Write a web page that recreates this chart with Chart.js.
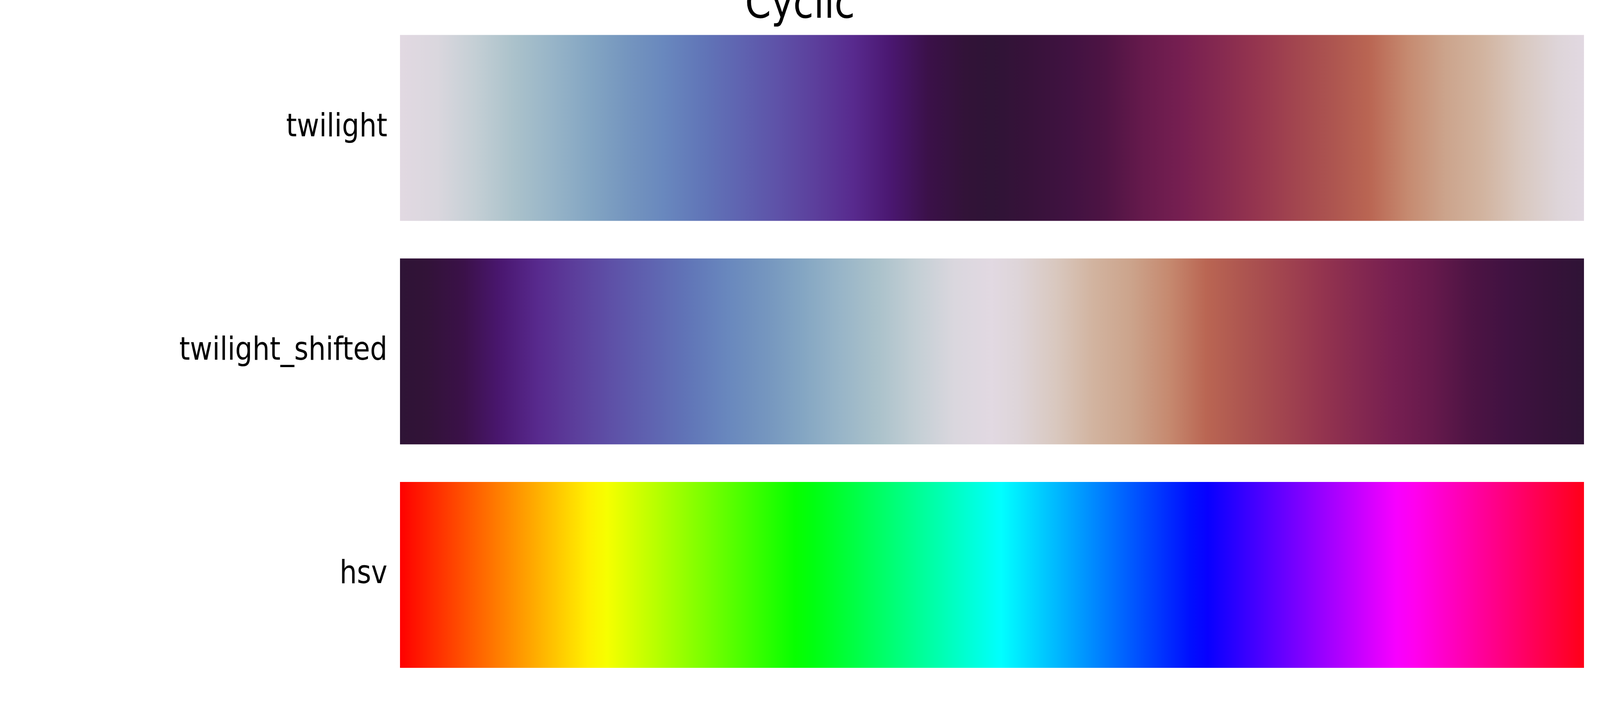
<!DOCTYPE html>
<html>
<head>
<meta charset="utf-8">
<script src="https://cdn.jsdelivr.net/npm/chart.js@4.4.1/dist/chart.umd.min.js"></script>
<style>
  html, body { margin: 0; padding: 0; background: #ffffff; overflow: hidden; }
  #c { position: fixed; left: 0; top: 0; display: block; }
</style>
</head>
<body>
<canvas id="c" width="4800" height="1800" style="width:100vw;height:100vh;"></canvas>
<script>
// ---- data ----
const titleText = 'Cyclic';
const cmapNames = ['twilight', 'twilight_shifted', 'hsv'];
const barStart = [0, 0, 0];
const barEnd = [1, 1, 1];

// colour stops [position, colour]
const twilightStops = [
  [0.000, '#e2d9e2'], [0.032, '#dad7de'], [0.064, '#c4cfd5'], [0.096, '#abc2cb'],
  [0.128, '#98b5c8'], [0.160, '#84a6c3'], [0.191, '#7596bf'], [0.223, '#6988be'],
  [0.255, '#6176b8'], [0.287, '#5f64b1'], [0.319, '#5e52a8'], [0.351, '#5c3f9c'],
  [0.383, '#582a8e'], [0.415, '#4a1770'], [0.446, '#3b1149'], [0.478, '#321338'],
  [0.500, '#2f1436'], [0.532, '#37123a'], [0.564, '#401241'], [0.596, '#4e1444'],
  [0.628, '#661a4c'], [0.660, '#761f51'], [0.691, '#852950'], [0.723, '#95354f'],
  [0.755, '#a2454f'], [0.787, '#ad5550'], [0.819, '#ba6653'], [0.851, '#c68a70'],
  [0.883, '#cca48c'], [0.915, '#d2b4a0'], [0.946, '#d9c8bf'], [0.978, '#ded5d9'],
  [1.000, '#e2d9e2']
];
const twilightShiftedStops = [
  [0.000, '#2f1436'], [0.022, '#321338'], [0.054, '#3b1149'], [0.085, '#4a1770'],
  [0.117, '#582a8e'], [0.149, '#5c3f9c'], [0.181, '#5e52a8'], [0.213, '#5f64b1'],
  [0.245, '#6176b8'], [0.277, '#6988be'], [0.309, '#7596bf'], [0.340, '#84a6c3'],
  [0.372, '#98b5c8'], [0.404, '#abc2cb'], [0.436, '#c4cfd5'], [0.468, '#dad7de'],
  [0.500, '#e2d9e2'], [0.522, '#ded5d9'], [0.554, '#d9c8bf'], [0.585, '#d2b4a0'],
  [0.617, '#cca48c'], [0.649, '#c68a70'], [0.681, '#ba6653'], [0.713, '#ad5550'],
  [0.745, '#a2454f'], [0.777, '#95354f'], [0.809, '#852950'], [0.840, '#761f51'],
  [0.872, '#661a4c'], [0.904, '#4e1444'], [0.936, '#401241'], [0.968, '#37123a'],
  [1.000, '#2f1436']
];
const hsvStops = [
  [0.000000, 'rgb(255,0,0)'],
  [0.158730, 'rgb(255,239,0)'],
  [0.174603, 'rgb(247,255,0)'],
  [0.333333, 'rgb(8,255,0)'],
  [0.349206, 'rgb(0,255,16)'],
  [0.507937, 'rgb(0,255,255)'],
  [0.666667, 'rgb(0,16,255)'],
  [0.682540, 'rgb(8,0,255)'],
  [0.841270, 'rgb(247,0,255)'],
  [0.857143, 'rgb(255,0,239)'],
  [1.000000, 'rgb(255,0,24)']
];
const cmapStops = [twilightStops, twilightShiftedStops, hsvStops];

// ---- chart ----
function barFill(context) {
  const chart = context.chart;
  const stops = cmapStops[context.dataIndex];
  if (!chart.chartArea || !stops) return stops ? stops[0][1] : '#000';
  const xs = chart.scales.x;
  const g = chart.ctx.createLinearGradient(xs.getPixelForValue(0), 0, xs.getPixelForValue(1), 0);
  stops.forEach(s => g.addColorStop(s[0], s[1]));
  return g;
}

new Chart(document.getElementById('c'), {
  type: 'bar',
  data: {
    labels: cmapNames,
    datasets: [{
      data: cmapNames.map((n, i) => [barStart[i], barEnd[i]]),
      backgroundColor: barFill,
      borderWidth: 0,
      barPercentage: 1,
      categoryPercentage: 0.832
    }]
  },
  options: {
    indexAxis: 'y',
    responsive: false,
    animation: false,
    devicePixelRatio: 1,
    layout: { padding: { left: 48, right: 48, top: 0, bottom: 42 } },
    plugins: {
      legend: { display: false },
      tooltip: { enabled: false },
      title: {
        display: true,
        text: titleText,
        color: '#000000',
        font: { family: 'DejaVu Sans', size: 112, weight: 'normal', lineHeight: 0.1 },
        padding: { top: 10.4, bottom: 19.9 }
      }
    },
    scales: {
      x: { display: false, min: 0, max: 1 },
      y: {
        grid: { display: false, drawTicks: false },
        border: { display: false },
        ticks: {
          color: '#000000',
          font: { family: 'DejaVu Sans', size: 82, weight: 'normal', lineHeight: 0.05 },
          padding: 38,
          autoSkip: false
        },
        afterFit: (scale) => { scale.width = 1152; }
      }
    }
  }
});
</script>
</body>
</html>
